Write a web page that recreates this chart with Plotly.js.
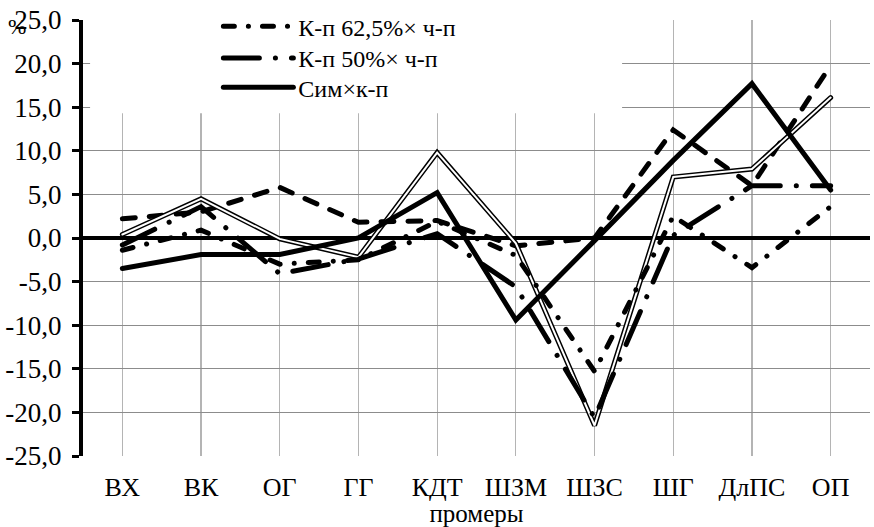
<!DOCTYPE html>
<html>
<head>
<meta charset="utf-8">
<script src="https://cdn.plot.ly/plotly-3.0.1.min.js"></script>
<style>
html,body{margin:0;padding:0;background:#fff;}
#chart{width:874px;height:527px;}
#chart path.js-line{stroke-linecap:round;}
</style>
</head>
<body>
<div id="chart"></div>
<script>
// Categories (промеры)
const categories = ['ВХ','ВК','ОГ','ГГ','КДТ','ШЗМ','ШЗС','ШГ','ДлПС','ОП'];
// Series values, %
const kp625 = [-1.4, 0.9, -3.0, -2.5, 1.9, -2.0, -15.3, 2.5, -3.4, 3.6];   // К-п 62,5%× ч-п (dash-dot)
const kp50  = [-0.8, 3.6, -4.1, -2.4, 0.5, -5.6, -20.6, 0.3, 6.0, 6.0];    // К-п 50%× ч-п (long dash-dot)
const simKp = [-3.5, -1.9, -1.9, 0.0, 5.2, -9.4, -0.3, 8.9, 17.7, 5.5];     // Сим×к-п (solid)
const seriesDashed = [2.2, 3.0, 5.8, 1.8, 2.0, -0.9, 0.0, 12.4, 6.0, 19.8]; // unlabeled dashed series
const seriesDouble = [0.4, 4.5, -0.1, -2.2, 9.8, -0.6, -21.5, 7.0, 7.9, 16.1]; // unlabeled double-line series
const yTicks = [-25, -20, -15, -10, -5, 0, 5, 10, 15, 20, 25];
const boundaryTicks = [-0.5, 0.5, 1.5, 2.5, 3.5, 4.5, 5.5, 6.5, 7.5, 8.5, 9.5];

const FONT = 'Liberation Serif, Times New Roman, serif';

const traces = [
  {x: categories, y: seriesDashed, type: 'scatter', mode: 'lines', showlegend: false,
   line: {color: '#000', width: 5, dash: '13px,14px'}},
  {x: categories, y: seriesDouble, type: 'scatter', mode: 'lines', showlegend: false,
   line: {color: '#000', width: 5}},
  {x: categories, y: seriesDouble, type: 'scatter', mode: 'lines', showlegend: false,
   line: {color: '#fff', width: 2}},
  {x: categories, y: kp625, type: 'scatter', mode: 'lines', name: 'К-п 62,5%× ч-п', legend: 'legend',
   line: {color: '#000', width: 5, dash: '11px,14px,0.1px,14px'}},
  {x: categories, y: kp50, type: 'scatter', mode: 'lines', name: 'К-п 50%× ч-п', legend: 'legend2',
   line: {color: '#000', width: 5, dash: '36px,16px,0.1px,16px'}},
  {x: categories, y: simKp, type: 'scatter', mode: 'lines', name: 'Сим×к-п', legend: 'legend3',
   line: {color: '#000', width: 5}}
];

const tickText = yTicks.map(v => v.toFixed(1).replace('.', ','));

function legendAt(y) {
  return {
    x: 0.172, y: y, xanchor: 'left', yanchor: 'middle',
    bgcolor: 'rgba(0,0,0,0)', itemwidth: 70,
    font: {family: FONT, size: 24, color: '#000'}
  };
}

const layout = {
  width: 874, height: 527,
  margin: {l: 83, r: 4, t: 16, b: 71},
  paper_bgcolor: '#fff', plot_bgcolor: '#fff',
  font: {family: FONT, color: '#000', size: 26},
  showlegend: true,
  legend: legendAt(0.985),
  legend2: legendAt(0.912),
  legend3: legendAt(0.845),
  xaxis: {
    type: 'category', range: [-0.5, 9.5],
    showgrid: true, gridcolor: '#b4b4b4', gridwidth: 1.3,
    showline: false, zeroline: false, ticks: '',
    tickfont: {family: FONT, size: 26, color: '#000'},
    ticklabelstandoff: 13,
    title: {text: 'промеры', font: {family: FONT, size: 25, color: '#000'}, standoff: 0}
  },
  xaxis2: {
    type: 'linear', overlaying: 'x', anchor: 'free', position: 0.5, side: 'bottom',
    range: [-0.5, 9.5], showgrid: false, zeroline: false, showline: false,
    tickmode: 'array', tickvals: boundaryTicks, showticklabels: false,
    ticks: 'outside', ticklen: 8, tickwidth: 3, tickcolor: '#000'
  },
  xaxis3: {
    type: 'linear', overlaying: 'x', anchor: 'free', position: 0.5, side: 'top',
    range: [-0.5, 9.5], showgrid: false, zeroline: false, showline: false,
    tickmode: 'array', tickvals: boundaryTicks, showticklabels: false,
    ticks: 'outside', ticklen: 8, tickwidth: 3, tickcolor: '#000'
  },
  yaxis: {
    range: [-25, 25], tickmode: 'array', tickvals: yTicks, ticktext: tickText,
    showgrid: true, gridcolor: '#8c8c8c', gridwidth: 1.3,
    zeroline: true, zerolinecolor: '#000', zerolinewidth: 3.5,
    showline: true, linecolor: '#000', linewidth: 4,
    ticks: 'outside', ticklen: 7, tickwidth: 3, tickcolor: '#000',
    ticklabelstandoff: 5,
    tickfont: {family: FONT, size: 27, color: '#000'}
  },
  shapes: [
    {type: 'rect', xref: 'paper', yref: 'paper', x0: 0.009, x1: 0.685, y0: 0.786, y1: 1.05,
     fillcolor: '#fff', line: {width: 0}, layer: 'above'}
  ],
  annotations: [
    {text: '%', xref: 'paper', yref: 'paper', x: 0, y: 1, xshift: -66, yshift: -6,
     xanchor: 'center', yanchor: 'middle',
     showarrow: false, font: {family: FONT, size: 22, color: '#000'}}
  ]
};

Plotly.newPlot('chart', traces, layout, {displayModeBar: false, staticPlot: true});
</script>
</body>
</html>
